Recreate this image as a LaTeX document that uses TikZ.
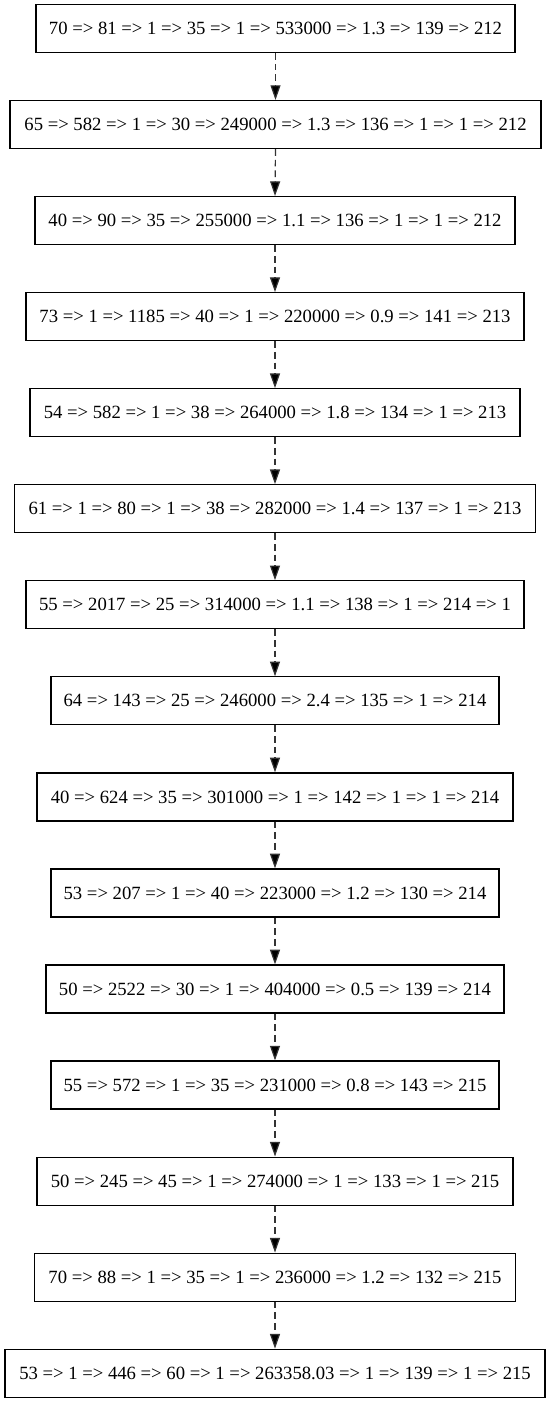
\documentclass[tikz,border=0pt]{standalone}
\usepackage{fontspec}
\setmainfont{Liberation Serif}
\usetikzlibrary{arrows.meta}
\begin{document}
\begin{tikzpicture}[x=0.75pt, y=-0.75pt,
  rec/.style={draw=black, line width=0.9pt, minimum height=36pt, inner sep=0pt,
    font=\fontsize{14pt}{16pt}\selectfont, fill=white},
  link/.style={draw=black!80, line width=0.9pt, dash pattern=on 5pt off 3pt,
    -{Triangle[length=11pt, width=7.5pt, fill=black]}}]
\useasboundingbox (0,0) rectangle (550,1403);
\def\gap{96.05}
\node[rec, minimum width=479*0.75pt] (r1)  at (275.5, 28.5+0*\gap) {70 => 81 => 1 => 35 => 1 => 533000 => 1.3 => 139 => 212};
\node[rec, minimum width=531*0.75pt] (r2)  at (275.5, 28.5+1*\gap) {65 => 582 => 1 => 30 => 249000 => 1.3 => 136 => 1 => 1 => 212};
\node[rec, minimum width=480*0.75pt] (r3)  at (275, 28.5+2*\gap) {40 => 90 => 35 => 255000 => 1.1 => 136 => 1 => 1 => 212};
\node[rec, minimum width=498*0.75pt] (r4)  at (275, 28.5+3*\gap) {73 => 1 => 1185 => 40 => 1 => 220000 => 0.9 => 141 => 213};
\node[rec, minimum width=490*0.75pt] (r5)  at (275, 28.5+4*\gap) {54 => 582 => 1 => 38 => 264000 => 1.8 => 134 => 1 => 213};
\node[rec, minimum width=521*0.75pt] (r6)  at (275, 28.5+5*\gap) {61 => 1 => 80 => 1 => 38 => 282000 => 1.4 => 137 => 1 => 213};
\node[rec, minimum width=498*0.75pt] (r7)  at (275, 28.5+6*\gap) {55 => 2017 => 25 => 314000 => 1.1 => 138 => 1 => 214 => 1};
\node[rec, minimum width=448*0.75pt] (r8)  at (275, 28.5+7*\gap) {64 => 143 => 25 => 246000 => 2.4 => 135 => 1 => 214};
\node[rec, minimum width=476*0.75pt] (r9)  at (275, 28.5+8*\gap) {40 => 624 => 35 => 301000 => 1 => 142 => 1 => 1 => 214};
\node[rec, minimum width=448*0.75pt] (r10) at (275, 28.5+9*\gap) {53 => 207 => 1 => 40 => 223000 => 1.2 => 130 => 214};
\node[rec, minimum width=458*0.75pt] (r11) at (275, 28.5+10*\gap) {50 => 2522 => 30 => 1 => 404000 => 0.5 => 139 => 214};
\node[rec, minimum width=448*0.75pt] (r12) at (275, 28.5+11*\gap) {55 => 572 => 1 => 35 => 231000 => 0.8 => 143 => 215};
\node[rec, minimum width=476*0.75pt] (r13) at (275, 28.5+12*\gap) {50 => 245 => 45 => 1 => 274000 => 1 => 133 => 1 => 215};
\node[rec, minimum width=481*0.75pt] (r14) at (275, 28.5+13*\gap) {70 => 88 => 1 => 35 => 1 => 236000 => 1.2 => 132 => 215};
\node[rec, minimum width=540*0.75pt] (r15) at (275, 28.5+14*\gap) {53 => 1 => 446 => 60 => 1 => 263358.03 => 1 => 139 => 1 => 215};
\foreach \a/\b in {1/2,2/3,3/4,4/5,5/6,6/7,7/8,8/9,9/10,10/11,11/12,12/13,13/14,14/15}
  \draw[link] (r\a.south) -- (r\b.north);
\end{tikzpicture}
\end{document}
